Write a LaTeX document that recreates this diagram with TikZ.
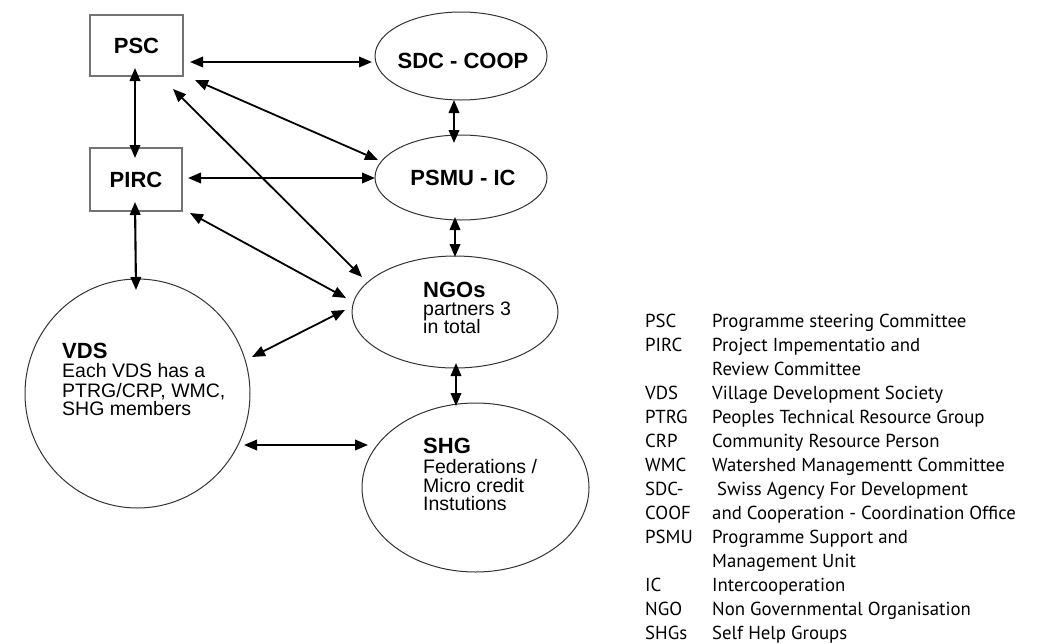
\documentclass[tikz,border=0pt]{standalone}
\usepackage{fontspec}
\setmainfont{Liberation Sans}
\newfontfamily\legfont{PT Sans}
\usetikzlibrary{arrows.meta,shapes.geometric}
\begin{document}
\begin{tikzpicture}[x=1pt,y=-1pt,
  boxnode/.style={draw=black!55,line width=1.5pt,minimum width=93pt,minimum height=61pt,inner sep=0pt,font=\fontsize{22}{24}\selectfont\bfseries},
  ell/.style={ellipse,draw=black!80,line width=1pt,inner sep=0pt},
  lbl/.style={inner sep=0pt,font=\fontsize{22}{24}\selectfont\bfseries},
  sub/.style={inner sep=0pt,anchor=base west,font=\fontsize{19.5}{20}\selectfont},
  legtxt/.style={inner sep=0pt,anchor=base west,font=\legfont\fontsize{18.8}{20}\selectfont},
  conn/.style={{Triangle[length=13pt,width=10.5pt]}-{Triangle[length=13pt,width=10.5pt]},line width=2.1pt},
  diag/.style={conn,line width=1.8pt},
]
\useasboundingbox (0,0) rectangle (1054,643);
\fill[white] (0,0) rectangle (1054,643);

% boxes and ellipses
\node[boxnode] (psc) at (136.5,45.5) {PSC};
\node[boxnode,minimum width=92pt,minimum height=63pt] (pirc) at (136,179.5) {PIRC};
\node[ell,minimum width=172pt,minimum height=88pt] (sdc) at (461,56) {};
\node[ell,minimum width=172pt,minimum height=85pt] (psmu) at (461,177.5) {};
\node[ell,minimum width=206pt,minimum height=112pt] (ngo) at (455,312) {};
\node[ell,minimum width=225pt,minimum height=229pt] (vds) at (137.5,393.5) {};
\node[ell,minimum width=227pt,minimum height=169pt] (shg) at (475.5,487.5) {};

% texts inside ellipses
\node[lbl] (sdct) at (463,61) {SDC - COOP};
\node[lbl] (psmut) at (463,178) {PSMU - IC};
\node[lbl,anchor=base west] (ngot1) at (423,297) {NGOs};
\node[sub] (ngot2) at (423,315) {partners 3};
\node[sub] (ngot3) at (423,333) {in total};
\node[lbl,anchor=base west] (vdst1) at (62,358) {VDS};
\node[sub] (vdst2) at (62,377) {Each VDS has a};
\node[sub] (vdst3) at (62,397) {PTRG/CRP, WMC,};
\node[sub] (vdst4) at (62,415) {SHG members};
\node[lbl,anchor=base west] (shgt1) at (423,453) {SHG};
\node[sub] (shgt2) at (423,473) {Federations /};
\node[sub] (shgt3) at (423,492) {Micro credit};
\node[sub] (shgt4) at (423,510) {Instutions};

% connectors
\draw[conn] ([shift={(53.5,16.5)}]psc.center) -- ([shift={(-89,6)}]sdc.center);
\draw[diag] ([shift={(58.5,34.5)}]psc.center) -- ([shift={(-83,-17.5)}]psmu.center);
\draw[diag] ([shift={(36.5,43.5)}]psc.center) -- ([shift={(-93,-35)}]ngo.center);
\draw[conn] ([shift={(-1.5,22.5)}]psc.center) -- ([shift={(-1,-21.5)}]pirc.center);
\draw[conn] ([shift={(52,-1.5)}]pirc.center) -- ([shift={(-86,0.5)}]psmu.center);
\draw[diag] ([shift={(54,33.5)}]pirc.center) -- ([shift={(-109,-14)}]ngo.center);
\draw[conn] ([shift={(-1,22.5)}]pirc.center) -- ([shift={(-1.5,-103.5)}]vds.center);
\draw[conn] ([shift={(-7,44)}]sdc.center) -- ([shift={(-7,-34.5)}]psmu.center);
\draw[conn] ([shift={(-6,39.5)}]psmu.center) -- ([shift={(0,-55)}]ngo.center);
\draw[diag] ([shift={(-110,-2)}]ngo.center) -- ([shift={(114.5,-36.5)}]vds.center);
\draw[conn] ([shift={(1,51)}]ngo.center) -- ([shift={(-19.5,-81.5)}]shg.center);
\draw[conn] ([shift={(106.5,51.5)}]vds.center) -- ([shift={(-107.5,-42.5)}]shg.center);

% legend
\node[legtxt] (la0) at (645,327) {PSC};
\node[legtxt] (ld0) at (712,327) {Programme steering Committee};
\node[legtxt] (la1) at (645,351) {PIRC};
\node[legtxt] (ld1) at (712,351) {Project Impementatio and};
\node[legtxt] (ld2) at (712,375) {Review Committee};
\node[legtxt] (la3) at (645,399) {VDS};
\node[legtxt] (ld3) at (712,399) {Village Development Society};
\node[legtxt] (la4) at (645,423) {PTRG};
\node[legtxt] (ld4) at (712,423) {Peoples Technical Resource Group};
\node[legtxt] (la5) at (645,447) {CRP};
\node[legtxt] (ld5) at (712,447) {Community Resource Person};
\node[legtxt] (la6) at (645,471) {WMC};
\node[legtxt] (ld6) at (712,471) {Watershed Managementt Committee};
\node[legtxt] (la7) at (645,495) {SDC-};
\node[legtxt] (ld7) at (717,495) {Swiss Agency For Development};
\node[legtxt] (la8) at (645,519) {COOF};
\node[legtxt] (ld8) at (712,519) {and Cooperation - Coordination Office};
\node[legtxt] (la9) at (645,543) {PSMU};
\node[legtxt] (ld9) at (712,543) {Programme Support and};
\node[legtxt] (ld10) at (712,567) {Management Unit};
\node[legtxt] (la11) at (645,591) {IC};
\node[legtxt] (ld11) at (712,591) {Intercooperation};
\node[legtxt] (la12) at (645,615) {NGO};
\node[legtxt] (ld12) at (712,615) {Non Governmental Organisation};
\node[legtxt] (la13) at (645,639) {SHGs};
\node[legtxt] (ld13) at (712,639) {Self Help Groups};
\end{tikzpicture}
\end{document}
